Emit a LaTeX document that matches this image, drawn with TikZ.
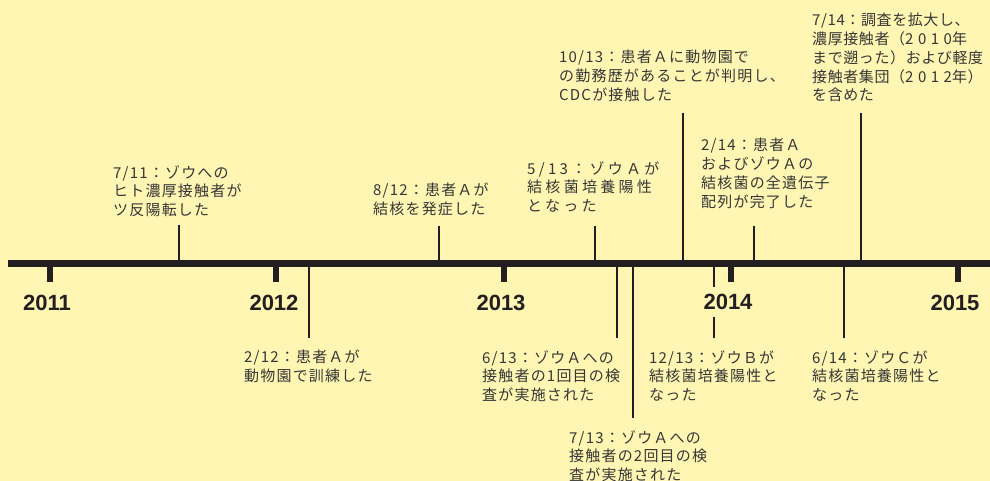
\documentclass[tikz,border=0pt]{standalone}
\usepackage{fontspec}
\setmainfont{Liberation Sans}
\newfontfamily\jp[LetterSpace=8]{Noto Sans CJK JP}
\newfontfamily\jpn[LetterSpace=4]{Noto Sans CJK JP}
\newfontfamily\jpw[LetterSpace=22]{Noto Sans CJK JP}
\newfontfamily\jpd[LetterSpace=30]{Noto Sans CJK JP}
\definecolor{bg}{HTML}{FFF6B3}
\definecolor{ink}{HTML}{231F20}
\definecolor{txt}{HTML}{363636}
\begin{document}
\begin{tikzpicture}[x=1pt,y=-1pt,
  ev/.style={anchor=north west,inner sep=0pt,align=left,text=txt,
    font=\jp\fontsize{15}{18.8}\selectfont},
  evnarrow/.style={ev,font=\jpn\fontsize{15}{18.8}\selectfont},
  evwide/.style={ev,font=\jpw\fontsize{15}{18.8}\selectfont},
  yr/.style={font=\bfseries\fontsize{22}{22}\selectfont,text=ink,fill=bg,
    inner xsep=1pt,inner ysep=0pt,minimum height=30pt},
  stick/.style={draw=ink,line width=2.8pt},
  yeartick/.style={draw=ink,line width=6pt},
  axisline/.style={draw=ink,line width=7pt}]
\fill[bg] (0,0) rectangle (990,481);
\useasboundingbox (0,0) rectangle (990,481);

% axis
\coordinate (L) at (8,263);
\coordinate (R) at (990,263);
\draw[axisline] (L) -- (R);

% year ticks
\foreach \n/\x in {2011/50,2012/276,2013/504,2014/731,2015/958}{
  \coordinate (t\n a) at (\x,263);
  \coordinate (t\n b) at (\x,282);
  \draw[yeartick] (t\n a) -- (t\n b);
}

% stick coordinates (on axis / free end)
\coordinate (e1a) at (179,263); \coordinate (e1b) at (179,225);
\coordinate (e2a) at (439,263); \coordinate (e2b) at (439,226);
\coordinate (e3a) at (595,263); \coordinate (e3b) at (595,226);
\coordinate (e4a) at (683,263); \coordinate (e4b) at (683,113);
\coordinate (e5a) at (754,263); \coordinate (e5b) at (754,226);
\coordinate (e6a) at (861,263); \coordinate (e6b) at (861,113);
\coordinate (e7a) at (309,263); \coordinate (e7b) at (309,338);
\coordinate (e8a) at (617,263); \coordinate (e8b) at (617,338);
\coordinate (e9a) at (633,263); \coordinate (e9b) at (633,418);
\coordinate (e10a) at (714,263); \coordinate (e10b) at (714,338);
\coordinate (e11a) at (844,263); \coordinate (e11b) at (844,338);
\foreach \i in {1,...,11}{\draw[stick] (e\i a) -- (e\i b);}

% year labels
\node[yr] (y2011) at (47,303) {2011};
\node[yr] (y2012) at (274,303) {2012};
\node[yr] (y2013) at (501,303) {2013};
\node[yr] (y2014) at (728,302) {2014};
\node[yr] (y2015) at (955,303) {2015};

% event texts
\node[ev] (n711) at (113,165) {7/11：ゾウへの\\ヒト濃厚接触者が\\ツ反陽転した};
\node[ev] (n812) at (373,183) {8/12：患者Ａが\\結核を発症した};
\node[evwide] (n513) at (527,161) {5/13：ゾウＡが\\結核菌培養陽性\\となった};
\node[ev] (n1013) at (559,50) {10/13：患者Ａに動物園で\\の勤務歴があることが判明し、\\CDCが接触した};
\node[ev] (n214) at (701,138) {2/14：患者Ａ\\およびゾウＡの\\結核菌の全遺伝子\\配列が完了した};
\node[evnarrow] (n714) at (812,13) {7/14：調査を拡大し、\\濃厚接触者（{\jpd 2010}年\\まで遡った）および軽度\\接触者集団（{\jpd 2012}年）\\を含めた};
\node[ev] (n212) at (244,350) {2/12：患者Ａが\\動物園で訓練した};
\node[ev] (n613) at (482,350) {6/13：ゾウＡへの\\接触者の1回目の検\\査が実施された};
\node[ev] (n713) at (569,430) {7/13：ゾウＡへの\\接触者の2回目の検\\査が実施された};
\node[ev] (n1213) at (649,350) {12/13：ゾウＢが\\結核菌培養陽性と\\なった};
\node[ev] (n614) at (812,350) {6/14：ゾウＣが\\結核菌培養陽性と\\なった};
\end{tikzpicture}
\end{document}
